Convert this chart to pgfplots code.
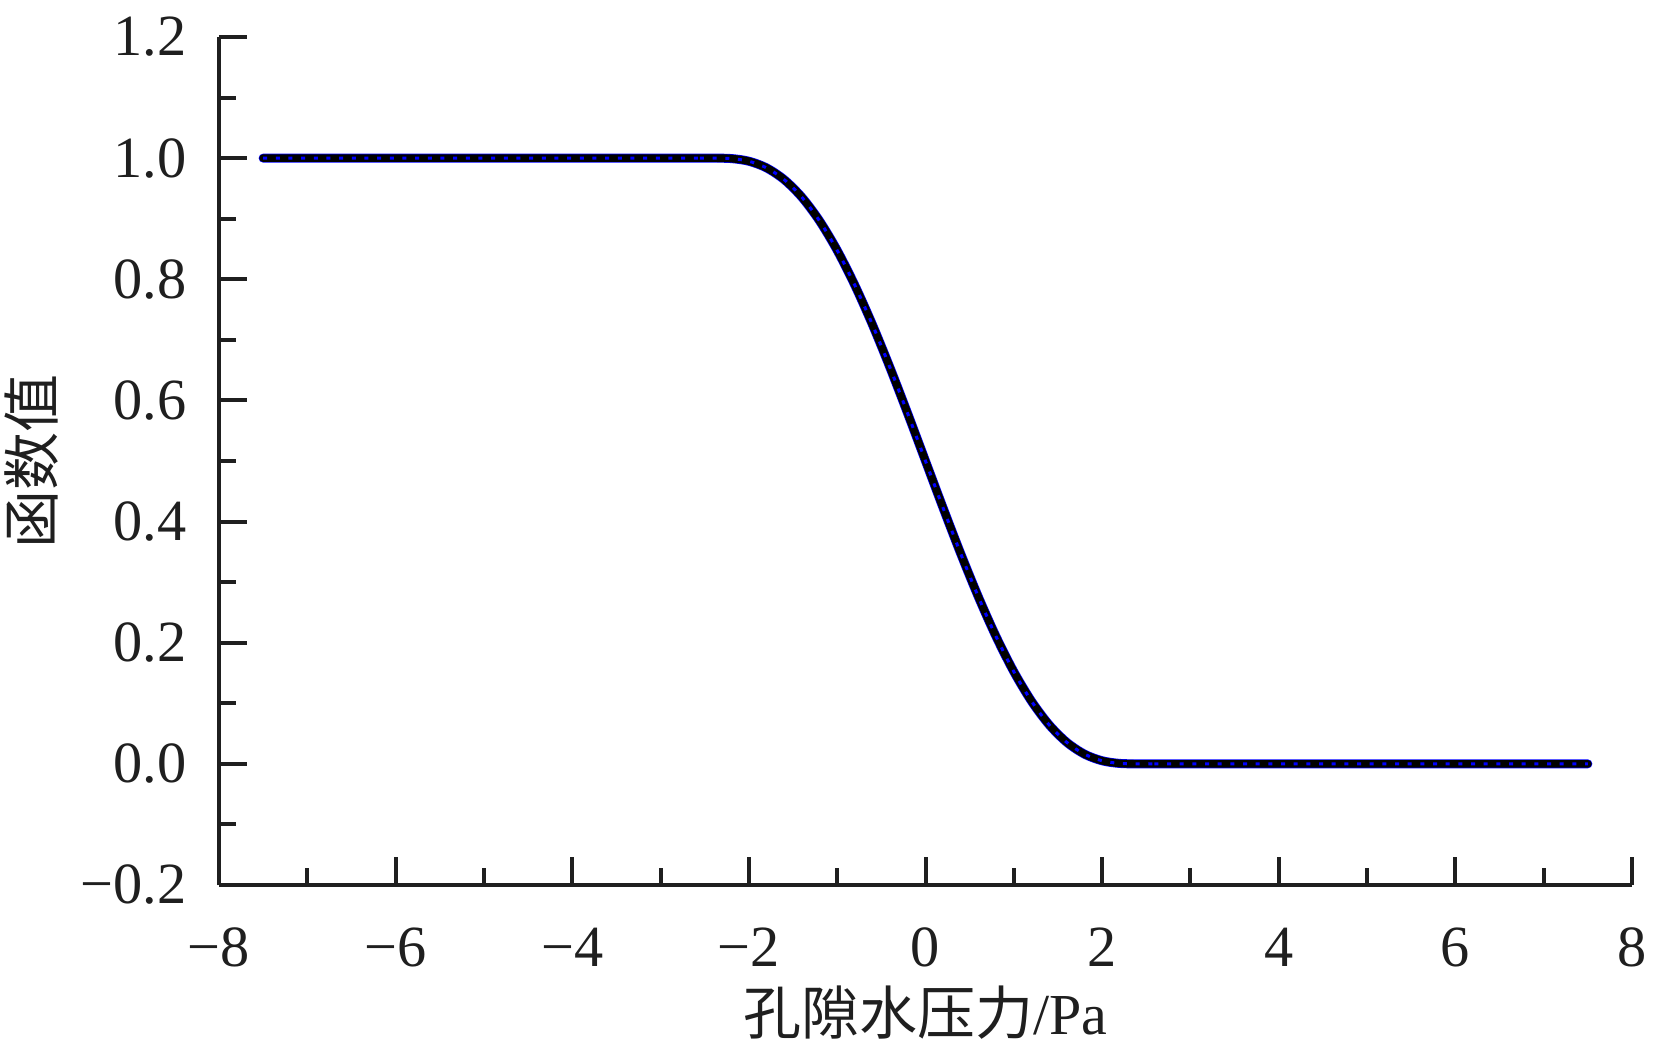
\documentclass[border=0pt]{standalone}
\usepackage{fontspec}
\setmainfont{Liberation Serif}
\newfontfamily\cjk{Noto Sans CJK SC}
\usepackage{pgfplots}
\usepackage{pgfplotstable}
\pgfplotsset{compat=1.18}
\pgfplotstableread{
x y
-7.5 1
-3.0 1
-2.6 1
-2.4 1
-2.2 0.99932
-2.0 0.99491
-1.8 0.98395
-1.6 0.96451
-1.4 0.93548
-1.2 0.89648
-1.0 0.84777
-0.8 0.79012
-0.6 0.72479
-0.4 0.65338
-0.2 0.57776
0.0 0.5
0.2 0.42224
0.4 0.34662
0.6 0.27521
0.8 0.20988
1.0 0.15223
1.2 0.10352
1.4 0.06452
1.6 0.03549
1.8 0.01605
2.0 0.00509
2.2 0.00068
2.4 0
2.6 0
3.0 0
7.5 0
}\datatable
\begin{document}
\begin{tikzpicture}
\begin{axis}[
  name=ax,
  width=423.9bp, height=254.4bp, scale only axis,
  xmin=-8, xmax=8, ymin=-0.2, ymax=1.2,
  axis x line=bottom, axis y line=left,
  axis line style={-, line width=1.2bp, color=black!88},
  xtick={-8,-6,-4,-2,0,2,4,6,8},
  xticklabels={−8,−6,−4,−2,0,2,4,6,8},
  minor xtick={-7,-5,-3,-1,1,3,5,7},
  ytick={-0.2,0,0.2,0.4,0.6,0.8,1.0,1.2},
  yticklabels={−0.2,0.0,0.2,0.4,0.6,0.8,1.0,1.2},
  minor ytick={-0.1,0.1,0.3,0.5,0.7,0.9,1.1},
  tick align=inside,
  major tick length=8.4bp, minor tick length=5bp,
  every tick/.style={line width=1.2bp, color=black!88},
  tick label style={font=\fontsize{17.5bp}{20bp}\selectfont, color=black!88, inner sep=0pt},
  yticklabel style={anchor=east, xshift=-9.6bp},
  xticklabel style={anchor=north, yshift=-12.6bp},
  xlabel={{\cjk 孔隙水压力}/Pa},
  ylabel={\cjk 函数值},
  label style={font=\fontsize{17.4bp}{20bp}\selectfont, color=black!88},
  xlabel style={at={(axis description cs:0.5,-0.151)}, anchor=center},
  ylabel style={at={(axis description cs:-0.133,0.5)}, anchor=center},
  clip=false,
]
\addplot[blue, line width=2.7bp, line cap=round, smooth] table[x=x,y=y]{\datatable};
\addplot[black, line width=2.3bp, line cap=round, smooth] table[x=x,y=y]{\datatable};
\addplot[blue, line width=0.9bp, dash pattern=on 1.2bp off 2.6bp, smooth] table[x=x,y=y]{\datatable};
\end{axis}
\pgfresetboundingbox
\path[use as bounding box] ([xshift=-65.7bp,yshift=-47.4bp]ax.south west) rectangle ([xshift=6.6bp,yshift=11.1bp]ax.north east);
\end{tikzpicture}
\end{document}
